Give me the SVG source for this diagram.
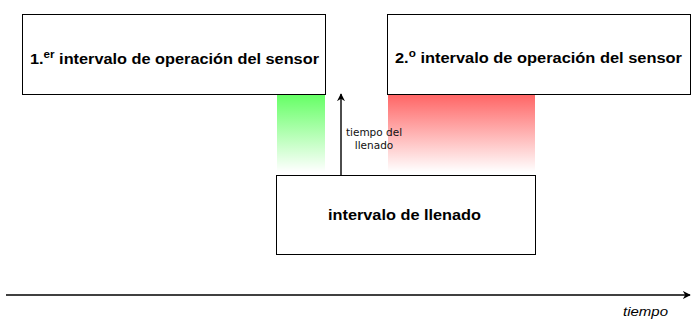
<svg xmlns="http://www.w3.org/2000/svg" width="692" height="327" viewBox="0 0 692 327">
<style>
.box{fill:#fff;stroke:#000;stroke-width:1}
.t{font-family:"Liberation Sans",Arial,sans-serif;font-weight:bold;font-size:14px;fill:#000}
.sm{font-family:"DejaVu Sans","Open Sans",sans-serif;font-size:10.5px;fill:#111;text-anchor:middle}
.ax{font-family:"Liberation Sans",Arial,sans-serif;font-style:italic;font-size:13px;fill:#000}
.ln{stroke:#000;stroke-width:1.4;fill:none}
</style>
<defs>
<linearGradient id="gg" x1="0" y1="0" x2="0" y2="1"><stop offset="0" stop-color="#66FF66"/><stop offset="1" stop-color="#fff"/></linearGradient>
<linearGradient id="rg" x1="0" y1="0" x2="0" y2="1"><stop offset="0" stop-color="#FF6666"/><stop offset="1" stop-color="#fff"/></linearGradient>
<marker id="ah" viewBox="0 0 10 10" refX="9" refY="5" markerWidth="8" markerHeight="8" markerUnits="userSpaceOnUse" orient="auto"><path d="M0,0 L10,5 L0,10 L3,5 Z" fill="#000"/></marker>
</defs>
<rect x="277" y="95" width="48" height="77" fill="url(#gg)"/>
<rect x="388" y="95" width="147" height="77" fill="url(#rg)"/>
<g id="n1"><rect class="box" x="22.5" y="14.5" width="303" height="80"/>
<text class="t" x="30" y="64" textLength="289" lengthAdjust="spacingAndGlyphs">1.<tspan font-size="10" dy="-6">er</tspan><tspan dy="6"> intervalo de operación del sensor</tspan></text></g>
<g id="n2"><rect class="box" x="387.5" y="14.5" width="303" height="80"/>
<text class="t" x="395" y="63" textLength="287" lengthAdjust="spacingAndGlyphs">2.<tspan font-size="10" dy="-6">o</tspan><tspan dy="6"> intervalo de operación del sensor</tspan></text></g>
<g id="n3"><rect class="box" x="276.5" y="175.5" width="259" height="79"/>
<text class="t" x="328" y="220" textLength="153" lengthAdjust="spacingAndGlyphs">intervalo de llenado</text></g>
<g id="connectors">
<line class="ln" x1="341" y1="175" x2="341" y2="94" marker-end="url(#ah)"/>
<text class="sm" x="374" y="136">tiempo del</text>
<text class="sm" x="374" y="149">llenado</text>
<line class="ln" x1="6" y1="295" x2="690" y2="295" marker-end="url(#ah)"/>
<text class="ax" x="623" y="316" textLength="45" lengthAdjust="spacingAndGlyphs">tiempo</text>
</g>
</svg>
